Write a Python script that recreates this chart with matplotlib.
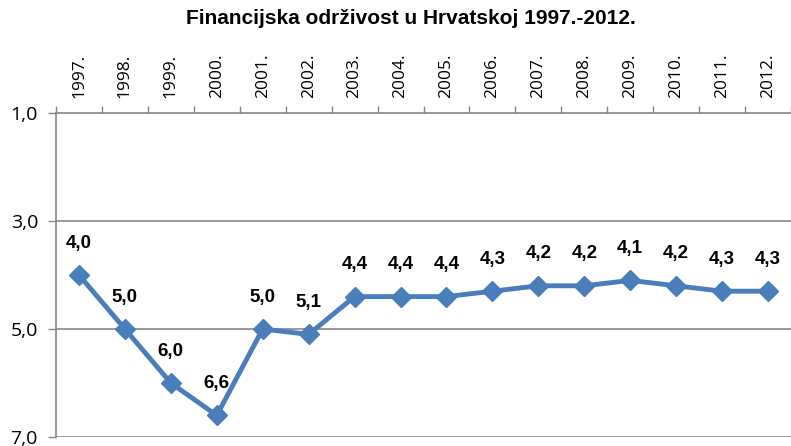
import matplotlib.pyplot as plt
from matplotlib.ticker import FixedLocator

plt.rcParams['font.family'] = ['Open Sans', 'DejaVu Sans']
BOLD_FONT = ['Liberation Sans', 'DejaVu Sans']

years = ['1997.', '1998.', '1999.', '2000.', '2001.', '2002.', '2003.', '2004.',
         '2005.', '2006.', '2007.', '2008.', '2009.', '2010.', '2011.', '2012.']
values = [4.0, 5.0, 6.0, 6.6, 5.0, 5.1, 4.4, 4.4, 4.4, 4.3, 4.2, 4.2, 4.1, 4.2, 4.3, 4.3]
y_ticks = [1.0, 3.0, 5.0, 7.0]

blue = '#4a7ebb'
grey = '#868686'

fig = plt.figure(figsize=(7.91, 4.46), dpi=100)
ax = fig.add_axes([56 / 791, 1 - 437 / 446, 1 - 56 / 791, (437 - 113) / 446])

x = list(range(len(years)))
ax.plot(x, values, color=blue, lw=3.5, marker='D', ms=10, mec=blue, mfc=blue,
        zorder=3, clip_on=False)

for xi, v in zip(x, values):
    ax.annotate(f'{v:.1f}'.replace('.', ','), (xi, v), xytext=(0, 23),
                textcoords='offset points', ha='center', va='center',
                fontsize=13.5, fontweight='bold', family=BOLD_FONT)

ax.set_xlim(-0.5, len(years) - 0.5)
ax.set_ylim(7.0, 1.0)
ax.set_yticks(y_ticks)
ax.set_yticklabels([f'{t:.1f}'.replace('.', ',') for t in y_ticks], fontsize=14)

ax.xaxis.tick_top()
ax.set_xticks(x)
ax.set_xticklabels(years, rotation=90, fontsize=12.5)
ax.xaxis.set_minor_locator(FixedLocator([i - 0.5 for i in range(len(years) + 1)]))
ax.tick_params(axis='x', which='major', length=0, pad=11)
ax.tick_params(axis='x', which='minor', length=5, color=grey, width=1)
ax.tick_params(axis='y', length=6, color=grey, width=1, pad=7)

for t in y_ticks[1:]:
    ax.axhline(t, color=grey, lw=1.2, zorder=1)

for s in ['right', 'bottom']:
    ax.spines[s].set_visible(False)
for s in ['left', 'top']:
    ax.spines[s].set_color(grey)
    ax.spines[s].set_linewidth(1.2)

fig.text(0.52, 1 - 18 / 446, 'Financijska održivost u Hrvatskoj 1997.-2012.',
         ha='center', va='center', fontsize=15, fontweight='bold', family=BOLD_FONT)

fig.savefig('out.png', dpi=100)
